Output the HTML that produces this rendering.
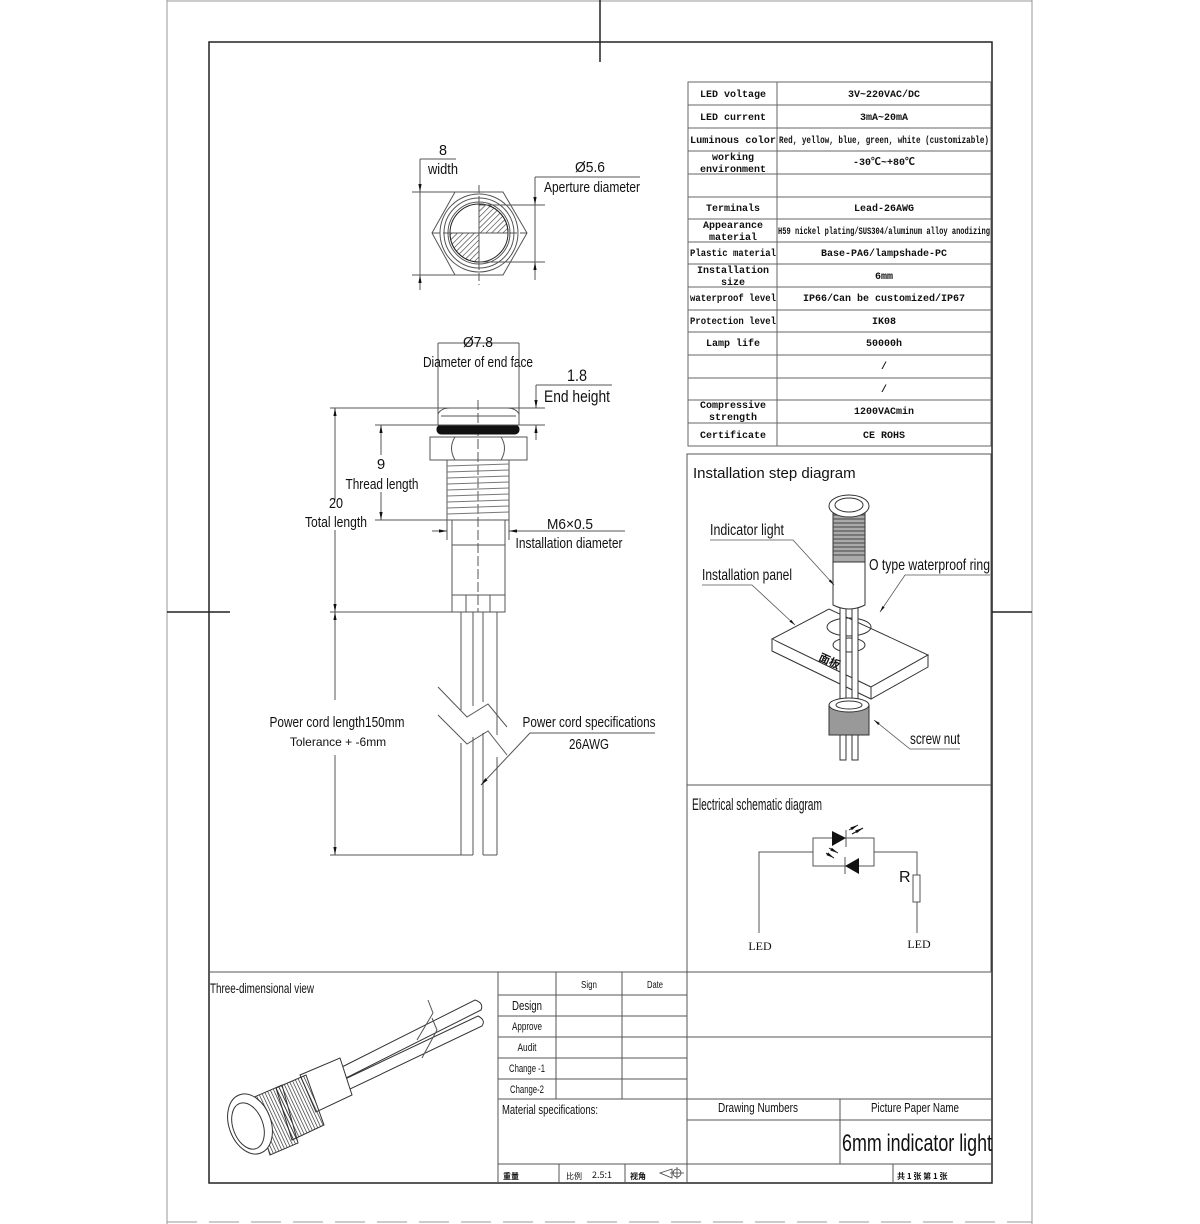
<!DOCTYPE html>
<html><head><meta charset="utf-8"><style>
html,body{margin:0;padding:0;background:#fff;}
svg{display:block;}
.n{font-family:"Liberation Sans Narrow","Liberation Sans",sans-serif;fill:#111;}
.m{font-family:"Liberation Mono","Noto Sans CJK SC",monospace;fill:#111;font-size:10px;}
.s{font-family:"Liberation Serif",serif;fill:#111;}
</style></head><body>
<svg width="1200" height="1224" viewBox="0 0 1200 1224" xmlns="http://www.w3.org/2000/svg">
<defs>
<marker id="a" viewBox="0 0 10 10" refX="10" refY="5" markerWidth="8" markerHeight="8" orient="auto-start-reverse"><path d="M0,3 L10,5 L0,7 z" fill="#111"/></marker>
<pattern id="h" width="4" height="4" patternUnits="userSpaceOnUse" patternTransform="rotate(45)"><line x1="0" y1="0" x2="0" y2="4" stroke="#333" stroke-width="1.2"/></pattern>
<pattern id="k" width="3" height="6" patternUnits="userSpaceOnUse" patternTransform="rotate(-25)"><line x1="0" y1="0" x2="0" y2="6" stroke="#222" stroke-width="1.3"/></pattern>
</defs>
<g fill="none" stroke="#999" stroke-width="1">
<line x1="167" y1="0" x2="167" y2="1224"/>
<line x1="1032" y1="0" x2="1032" y2="1224"/>
<line x1="167" y1="1" x2="1032" y2="1"/>
<line x1="167" y1="1222" x2="1032" y2="1222" stroke-dasharray="30,12"/>
</g>
<g fill="none" stroke="#222" stroke-width="1.5">
<rect x="209" y="42" width="783" height="1141"/>
<line x1="600" y1="0" x2="600" y2="62"/>
<line x1="167" y1="612" x2="230" y2="612"/>
<line x1="992" y1="612" x2="1032" y2="612"/>
</g>

<!-- Spec table -->
<g fill="none" stroke="#666" stroke-width="1">
<rect x="688" y="82" width="303" height="364"/>
<line x1="777" y1="82" x2="777" y2="446"/>
<line x1="688" y1="105" x2="991" y2="105"/><line x1="688" y1="128" x2="991" y2="128"/>
<line x1="688" y1="151" x2="991" y2="151"/><line x1="688" y1="174" x2="991" y2="174"/>
<line x1="688" y1="197" x2="991" y2="197"/><line x1="688" y1="219" x2="991" y2="219"/>
<line x1="688" y1="242" x2="991" y2="242"/><line x1="688" y1="264" x2="991" y2="264"/>
<line x1="688" y1="287" x2="991" y2="287"/><line x1="688" y1="310" x2="991" y2="310"/>
<line x1="688" y1="332" x2="991" y2="332"/><line x1="688" y1="355" x2="991" y2="355"/>
<line x1="688" y1="378" x2="991" y2="378"/><line x1="688" y1="400" x2="991" y2="400"/>
<line x1="688" y1="423" x2="991" y2="423"/>
</g>
<g class="m" text-anchor="middle" font-weight="bold">
<text x="733" y="97">LED voltage</text><text x="884" y="97">3V~220VAC/DC</text>
<text x="733" y="120">LED current</text><text x="884" y="120">3mA~20mA</text>
<text x="733" y="143" textLength="86" lengthAdjust="spacingAndGlyphs">Luminous color</text><text x="884" y="143" textLength="210" lengthAdjust="spacingAndGlyphs">Red, yellow, blue, green, white (customizable)</text>
<text x="733" y="160">working</text><text x="733" y="172">environment</text><text x="884" y="165">-30℃~+80℃</text>
<text x="733" y="211">Terminals</text><text x="884" y="211">Lead-26AWG</text>
<text x="733" y="228">Appearance</text><text x="733" y="240">material</text><text x="884" y="234" textLength="212" lengthAdjust="spacingAndGlyphs">H59 nickel plating/SUS304/aluminum alloy anodizing</text>
<text x="733" y="256" textLength="86" lengthAdjust="spacingAndGlyphs">Plastic material</text><text x="884" y="256">Base-PA6/lampshade-PC</text>
<text x="733" y="273">Installation</text><text x="733" y="285">size</text><text x="884" y="279">6mm</text>
<text x="733" y="301" textLength="86" lengthAdjust="spacingAndGlyphs">waterproof level</text><text x="884" y="301">IP66/Can be customized/IP67</text>
<text x="733" y="324" textLength="86" lengthAdjust="spacingAndGlyphs">Protection level</text><text x="884" y="324">IK08</text>
<text x="733" y="346">Lamp life</text><text x="884" y="346">50000h</text>
<text x="884" y="369">/</text><text x="884" y="392">/</text>
<text x="733" y="408">Compressive</text><text x="733" y="420">strength</text><text x="884" y="414">1200VACmin</text>
<text x="733" y="438">Certificate</text><text x="884" y="438">CE ROHS</text>
</g>

<!-- right panels -->
<g fill="none" stroke="#555" stroke-width="1">
<rect x="687" y="454" width="304" height="518"/>
<line x1="687" y1="785" x2="991" y2="785"/>
</g>
<text class="n" x="693" y="478" font-size="15" style="font-family:'Liberation Sans',sans-serif">Installation step diagram</text>

<!-- install drawing -->
<g fill="#fff" stroke="#333" stroke-width="1">
<path d="M772,639 L829,609 L928,655 L871,687 Z"/>
<path d="M772,639 L772,651 L871,699 L928,667 L928,655 L871,687 L871,699" />
<ellipse cx="849" cy="627" rx="22" ry="9" fill="none"/>
<ellipse cx="849" cy="645" rx="16" ry="7" fill="none"/>
<rect x="840" y="580" width="6" height="180"/><rect x="852" y="580" width="6" height="180"/>
<path d="M833,560 L833,605 Q849,613 865,605 L865,560 Z"/>
<rect x="833" y="510" width="32" height="52" fill="#aaa"/>
<g stroke="#444">
<line x1="833" y1="515" x2="865" y2="515"/><line x1="833" y1="519" x2="865" y2="519"/><line x1="833" y1="523" x2="865" y2="523"/><line x1="833" y1="527" x2="865" y2="527"/><line x1="833" y1="531" x2="865" y2="531"/><line x1="833" y1="535" x2="865" y2="535"/><line x1="833" y1="539" x2="865" y2="539"/><line x1="833" y1="543" x2="865" y2="543"/><line x1="833" y1="547" x2="865" y2="547"/><line x1="833" y1="551" x2="865" y2="551"/><line x1="833" y1="555" x2="865" y2="555"/>
</g>
<ellipse cx="849" cy="506" rx="20" ry="11"/>
<ellipse cx="849" cy="505" rx="14" ry="7"/>
<rect x="829" y="705" width="40" height="30" fill="#999"/>
<ellipse cx="849" cy="705" rx="20" ry="7"/>
<ellipse cx="849" cy="705" rx="13" ry="4"/>
<rect x="840" y="735" width="6" height="25"/><rect x="852" y="735" width="6" height="25"/>
</g>
<text x="818" y="660" font-size="11" font-weight="bold" fill="#111" transform="rotate(25 818 660)" style="font-family:'Noto Sans CJK SC',sans-serif">面板</text>
<g fill="none" stroke="#555" stroke-width="0.8">
<polyline points="710,540 793,540 834,585" marker-end="url(#a)"/>
<polyline points="702,585 752,585 795,625" marker-end="url(#a)"/>
<polyline points="990,575 905,575 880,612" marker-end="url(#a)"/>
<polyline points="960,749 910,749 874,720" marker-end="url(#a)"/>
</g>
<g class="n" font-size="16">
<text x="710" y="535" textLength="74" lengthAdjust="spacingAndGlyphs">Indicator light</text>
<text x="702" y="580" textLength="90" lengthAdjust="spacingAndGlyphs">Installation panel</text>
<text x="869" y="570" textLength="121" lengthAdjust="spacingAndGlyphs">O type waterproof ring</text>
<text x="910" y="744" textLength="50" lengthAdjust="spacingAndGlyphs">screw nut</text>
</g>

<!-- schematic -->
<text class="n" x="692" y="810" font-size="17" textLength="130" lengthAdjust="spacingAndGlyphs">Electrical schematic diagram</text>
<g fill="none" stroke="#555" stroke-width="1">
<rect x="813" y="838" width="61" height="28"/>
<polyline points="813,852 759,852 759,933"/>
<polyline points="874,852 917,852 917,875"/>
<rect x="913" y="875" width="7" height="27"/>
<line x1="917" y1="902" x2="917" y2="933"/>
<line x1="846" y1="830" x2="846" y2="847"/>
<line x1="845" y1="857" x2="845" y2="874"/>
</g>
<path d="M832,831 L846,838 L832,846 Z" fill="#111"/>
<path d="M859,858 L845,866 L859,874 Z" fill="#111"/>
<g stroke="#111" stroke-width="1" fill="none">
<line x1="849" y1="830" x2="858" y2="825" marker-end="url(#a)"/>
<line x1="852" y1="834" x2="863" y2="828" marker-end="url(#a)"/>
<line x1="829" y1="848" x2="838" y2="853" marker-end="url(#a)"/>
<line x1="826" y1="853" x2="834" y2="858" marker-end="url(#a)"/>
</g>
<text class="n" x="899" y="882" font-size="16">R</text>
<text class="s" x="760" y="950" font-size="12" text-anchor="middle">LED</text>
<text class="s" x="919" y="948" font-size="12" text-anchor="middle">LED</text>

<!-- top view -->
<g fill="none" stroke="#555" stroke-width="1">
<path d="M432,233 L455,192 L503,192 L527,233 L503,275 L455,275 Z"/>
<circle cx="479" cy="233" r="39"/>
<circle cx="479" cy="233" r="35"/>
<circle cx="479" cy="233" r="31"/>
<path d="M479,204 A29,29 0 0 1 508,233 L479,233 Z" fill="url(#h)"/>
<path d="M479,262 A29,29 0 0 1 450,233 L479,233 Z" fill="url(#h)"/>
<circle cx="479" cy="233" r="29" stroke="#222"/>
<line x1="479" y1="185" x2="479" y2="285" stroke-dasharray="8,3"/>
<line x1="432" y1="233" x2="527" y2="233" stroke-dasharray="8,3"/>
<line x1="412" y1="192" x2="455" y2="192"/><line x1="412" y1="275" x2="479" y2="275"/>
<line x1="420" y1="159" x2="420" y2="192" marker-end="url(#a)"/>
<line x1="420" y1="290" x2="420" y2="275" marker-end="url(#a)"/>
<line x1="420" y1="192" x2="420" y2="275"/>
<line x1="420" y1="159" x2="456" y2="159"/>
<line x1="479" y1="205" x2="545" y2="205"/><line x1="479" y1="262" x2="545" y2="262"/>
<line x1="535" y1="177" x2="535" y2="205" marker-end="url(#a)"/>
<line x1="535" y1="280" x2="535" y2="262" marker-end="url(#a)"/>
<line x1="535" y1="205" x2="535" y2="262"/>
<line x1="535" y1="177" x2="640" y2="177"/>
</g>
<g class="n" font-size="15" text-anchor="middle">
<text x="443" y="155" textLength="8" lengthAdjust="spacingAndGlyphs">8</text><text x="443" y="174" textLength="30" lengthAdjust="spacingAndGlyphs">width</text>
<text x="590" y="172" textLength="30" lengthAdjust="spacingAndGlyphs">Ø5.6</text><text x="592" y="192" textLength="96" lengthAdjust="spacingAndGlyphs">Aperture diameter</text>
</g>

<!-- side view -->
<g fill="none" stroke="#555" stroke-width="1">
<line x1="438" y1="343" x2="438" y2="425"/><line x1="519" y1="343" x2="519" y2="425"/>
<line x1="438" y1="343" x2="519" y2="343"/>
<path d="M438,425 L438,414 Q441,408 450,408 L507,408 Q516,408 519,414 L519,425"/>
<line x1="441" y1="416" x2="516" y2="416"/>
<line x1="478" y1="400" x2="478" y2="612" stroke-dasharray="10,3"/>
<rect x="437" y="425" width="82" height="9" rx="4" fill="#111" stroke="#111"/>
<path d="M430,437 L527,437 L527,460 L430,460 Z"/>
<path d="M455,437 Q448,448 455,460 M501,437 Q508,448 501,460"/>
<rect x="447" y="460" width="62" height="60"/>
<g stroke="#777">
<line x1="447" y1="466" x2="509" y2="464"/><line x1="447" y1="472" x2="509" y2="470"/><line x1="447" y1="478" x2="509" y2="476"/><line x1="447" y1="484" x2="509" y2="482"/><line x1="447" y1="490" x2="509" y2="488"/><line x1="447" y1="496" x2="509" y2="494"/><line x1="447" y1="502" x2="509" y2="500"/><line x1="447" y1="508" x2="509" y2="506"/><line x1="447" y1="514" x2="509" y2="512"/>
</g>
<rect x="452" y="520" width="53" height="75"/>
<line x1="452" y1="545" x2="505" y2="545"/>
<rect x="452" y="595" width="53" height="17"/>
<line x1="466" y1="595" x2="466" y2="612"/><line x1="490" y1="595" x2="490" y2="612"/>
<line x1="461" y1="612" x2="461" y2="710"/><line x1="473" y1="612" x2="473" y2="706"/>
<line x1="483" y1="612" x2="483" y2="702"/><line x1="497" y1="612" x2="497" y2="735"/>
<line x1="461" y1="743" x2="461" y2="855"/><line x1="473" y1="737" x2="473" y2="855"/>
<line x1="483" y1="733" x2="483" y2="855"/><line x1="497" y1="757" x2="497" y2="855"/>
<line x1="483" y1="855" x2="497" y2="855"/><line x1="461" y1="855" x2="473" y2="855"/>
<polyline points="438,687 467,717 488,704 507,727"/>
<polyline points="438,715 467,744 488,731 507,755"/>
<!-- dims -->
<line x1="330" y1="408" x2="545" y2="408"/>
<line x1="330" y1="612" x2="460" y2="612"/>
<line x1="330" y1="855" x2="461" y2="855"/>
<line x1="375" y1="425" x2="545" y2="425"/>
<line x1="375" y1="520" x2="447" y2="520"/>
<line x1="335" y1="500" x2="335" y2="408" marker-end="url(#a)"/>
<line x1="335" y1="530" x2="335" y2="612" marker-end="url(#a)"/>
<line x1="335" y1="700" x2="335" y2="612" marker-end="url(#a)"/>
<line x1="335" y1="755" x2="335" y2="855" marker-end="url(#a)"/>
<line x1="381" y1="455" x2="381" y2="425" marker-end="url(#a)"/>
<line x1="381" y1="492" x2="381" y2="520" marker-end="url(#a)"/>
<line x1="536" y1="385" x2="536" y2="408" marker-end="url(#a)"/>
<line x1="536" y1="440" x2="536" y2="425" marker-end="url(#a)"/>
<line x1="536" y1="385" x2="612" y2="385"/>
<line x1="447" y1="520" x2="447" y2="540"/><line x1="509" y1="520" x2="509" y2="540"/>
<line x1="432" y1="531" x2="447" y2="531" marker-end="url(#a)"/>
<line x1="625" y1="531" x2="509" y2="531" marker-end="url(#a)"/>
<polyline points="655,733 530,733 481,785" marker-end="url(#a)"/>
</g>
<g class="n" font-size="15" text-anchor="middle">
<text x="478" y="347" textLength="30" lengthAdjust="spacingAndGlyphs">Ø7.8</text>
<text x="478" y="367" textLength="110" lengthAdjust="spacingAndGlyphs">Diameter of end face</text>
<text x="577" y="381" font-size="17" textLength="20" lengthAdjust="spacingAndGlyphs">1.8</text>
<text x="577" y="402" font-size="17" textLength="66" lengthAdjust="spacingAndGlyphs">End height</text>
<text x="381" y="469">9</text>
<text x="382" y="489" textLength="73" lengthAdjust="spacingAndGlyphs">Thread length</text>
<text x="336" y="508" textLength="14" lengthAdjust="spacingAndGlyphs">20</text>
<text x="336" y="527" textLength="62" lengthAdjust="spacingAndGlyphs">Total length</text>
<text x="570" y="529" textLength="46" lengthAdjust="spacingAndGlyphs">M6×0.5</text>
<text x="569" y="548" textLength="107" lengthAdjust="spacingAndGlyphs">Installation diameter</text>
<text x="337" y="727" textLength="135" lengthAdjust="spacingAndGlyphs">Power cord length150mm</text>
<text x="589" y="727" textLength="133" lengthAdjust="spacingAndGlyphs">Power cord specifications</text>
<text x="589" y="749" textLength="40" lengthAdjust="spacingAndGlyphs">26AWG</text>
</g>
<text x="338" y="746" font-size="12" text-anchor="middle" fill="#111" style="font-family:'Liberation Sans',sans-serif">Tolerance + -6mm</text>

<!-- title block -->
<g fill="none" stroke="#555" stroke-width="1">
<line x1="209" y1="972" x2="992" y2="972"/>
<line x1="498" y1="972" x2="498" y2="1183"/>
<line x1="556" y1="972" x2="556" y2="1099"/>
<line x1="622" y1="972" x2="622" y2="1099"/>
<line x1="687" y1="972" x2="687" y2="1183"/>
<line x1="498" y1="995" x2="687" y2="995"/>
<line x1="498" y1="1016" x2="687" y2="1016"/>
<line x1="498" y1="1037" x2="992" y2="1037"/>
<line x1="498" y1="1058" x2="687" y2="1058"/>
<line x1="498" y1="1079" x2="687" y2="1079"/>
<line x1="498" y1="1099" x2="992" y2="1099"/>
<line x1="687" y1="1120" x2="992" y2="1120"/>
<line x1="840" y1="1099" x2="840" y2="1164"/>
<line x1="498" y1="1164" x2="992" y2="1164"/>
<line x1="559" y1="1164" x2="559" y2="1183"/>
<line x1="625" y1="1164" x2="625" y2="1183"/>
<line x1="893" y1="1164" x2="893" y2="1183"/>
</g>
<g class="n" font-size="13" text-anchor="middle">
<text x="589" y="988" font-size="10" textLength="16" lengthAdjust="spacingAndGlyphs">Sign</text>
<text x="655" y="988" font-size="10" textLength="16" lengthAdjust="spacingAndGlyphs">Date</text>
<text x="527" y="1010" textLength="30" lengthAdjust="spacingAndGlyphs">Design</text>
<text x="527" y="1030" font-size="11" textLength="30" lengthAdjust="spacingAndGlyphs">Approve</text>
<text x="527" y="1051" font-size="11" textLength="19" lengthAdjust="spacingAndGlyphs">Audit</text>
<text x="527" y="1072" font-size="11" textLength="36" lengthAdjust="spacingAndGlyphs">Change -1</text>
<text x="527" y="1093" font-size="11" textLength="34" lengthAdjust="spacingAndGlyphs">Change-2</text>
<text x="758" y="1112" textLength="80" lengthAdjust="spacingAndGlyphs">Drawing Numbers</text>
<text x="915" y="1112" textLength="88" lengthAdjust="spacingAndGlyphs">Picture Paper Name</text>
</g>
<text class="n" x="210" y="993" font-size="14" textLength="104" lengthAdjust="spacingAndGlyphs">Three-dimensional view</text>
<text class="n" x="502" y="1114" font-size="13" textLength="96" lengthAdjust="spacingAndGlyphs">Material specifications:</text>
<text class="n" x="842" y="1151" font-size="24" textLength="150" lengthAdjust="spacingAndGlyphs">6mm indicator light</text>
<g font-size="8" fill="#111" style="font-family:'Noto Sans CJK SC',sans-serif">
<text x="503" y="1179" font-weight="bold">重量</text>
<text x="566" y="1179">比例</text><text x="592" y="1178" font-size="9">2.5:1</text>
<text x="630" y="1179" font-weight="bold">视角</text>
<text x="897" y="1179" font-weight="bold">共 1 张 第 1 张</text>
</g>
<g fill="none" stroke="#444" stroke-width="0.8">
<path d="M660,1173 L672,1169 L672,1178 Z"/><circle cx="677" cy="1173" r="4"/><line x1="670" y1="1173" x2="684" y2="1173"/><line x1="677" y1="1167" x2="677" y2="1179"/>
</g>

<!-- 3D view -->
<g fill="#fff" stroke="#333" stroke-width="1">
<path d="M340,1068 L475,1000 Q484,1003 481,1010 L346,1078 Z"/>
<path d="M343,1080 L478,1016 Q486,1020 482,1026 L348,1090 Z"/>
<path d="M300,1075 L340,1058 L352,1095 L316,1112 Z"/>
<path d="M276,1088 L306,1075 L324,1125 L292,1140 Z" fill="url(#k)"/>
<path d="M252,1098 L282,1085 L298,1143 L270,1155 Z" fill="url(#k)"/>
<ellipse cx="250" cy="1124" rx="21" ry="31" transform="rotate(-20 250 1124)"/>
<ellipse cx="248" cy="1126" rx="15" ry="24" transform="rotate(-20 248 1126)"/>
</g>
<g fill="none" stroke="#555" stroke-width="1">
<polyline points="417,1040 433,1013 428,1000"/>
<polyline points="422,1058 437,1030 432,1018"/>
</g>
</svg>
</body></html>
